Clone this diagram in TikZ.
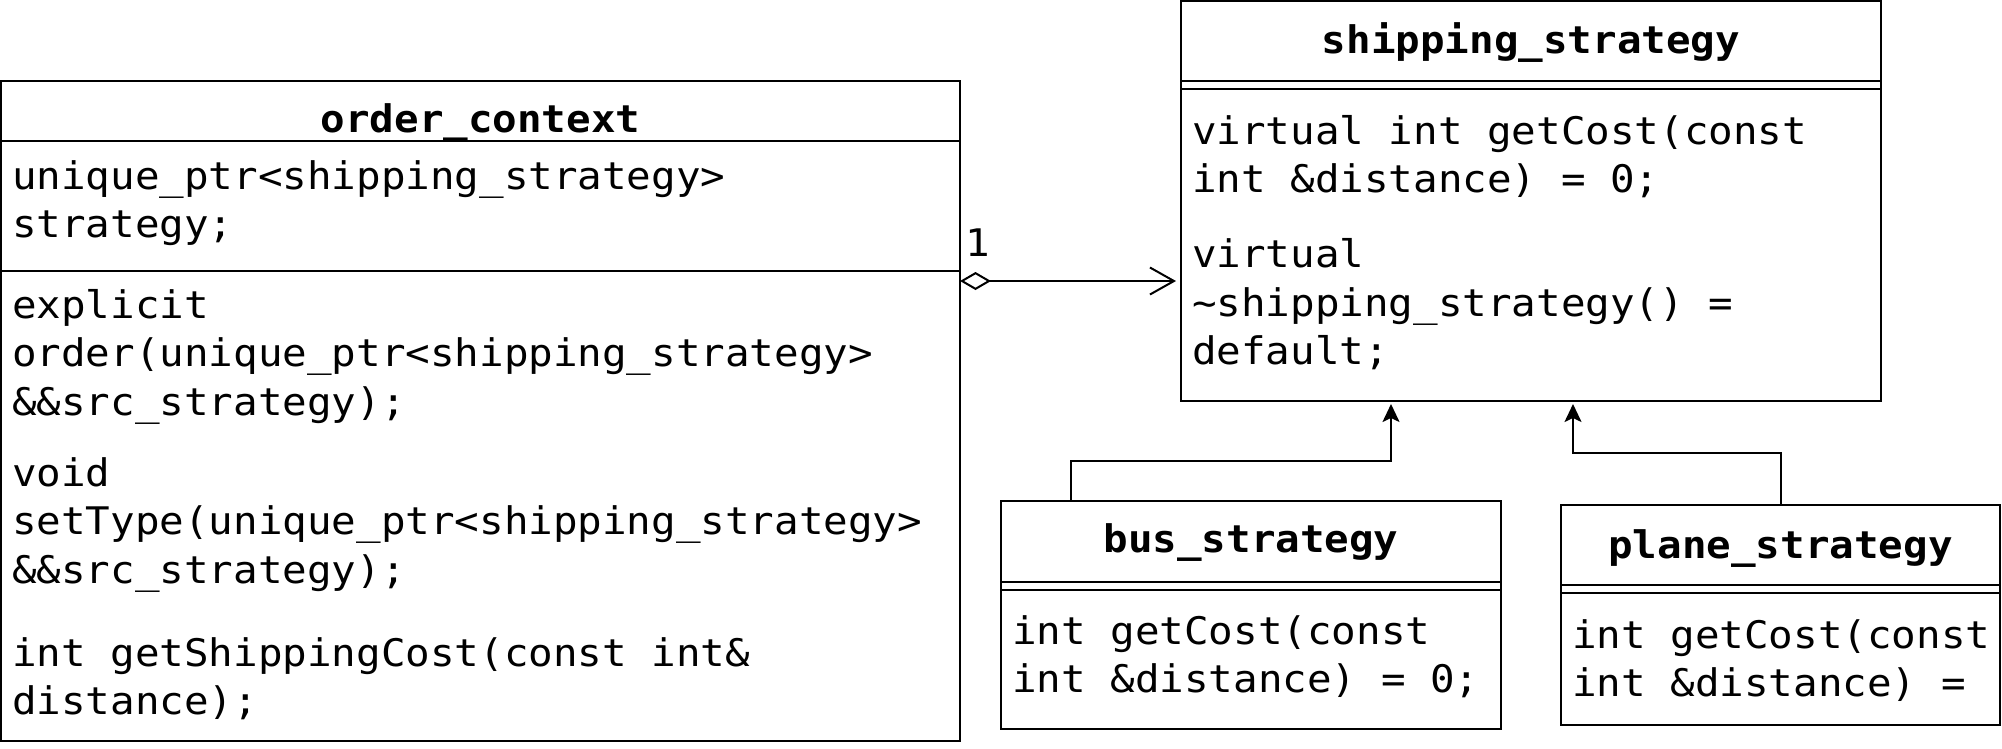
\documentclass[tikz,border=0pt]{standalone}
\usepackage{fontspec}
\setmonofont{DejaVu Sans Mono}[FakeStretch=1.075]
\usetikzlibrary{arrows.meta}
\tikzset{
  box/.style={draw, line width=2pt, outer sep=0pt, inner sep=0pt, anchor=north west},
  sepline/.style={line width=2pt},
  txt/.style={font=\ttfamily\fontsize{38}{48.5}\selectfont, inner sep=0pt, anchor=base west},
  ttl/.style={font=\ttfamily\bfseries\fontsize{38}{48.5}\selectfont, inner sep=0pt, anchor=base},
  agg/.style={line width=2pt, {Diamond[open,length=31pt,width=18pt]}-{Straight Barb[length=24pt,width=27pt]}, shorten >=5pt},
  inh/.style={line width=2pt, -{Stealth[length=18pt,width=17pt,inset=4pt]}, shorten >=3pt},
}
\begin{document}
\begin{tikzpicture}[x=1pt,y=-1pt]
\useasboundingbox (0,0) rectangle (2002,748);
% ---------- order_context ----------
\node[box, minimum width=959pt, minimum height=660pt] (order) at (1,81) {};
\draw[sepline] (1,140.7) -- (960,140.7);
\draw[sepline] (1,270.7) -- (960,270.7);
\node[ttl] (ot) at (480.5,132) {order\_context};
\node[txt] (o1) at (12,189) {unique\_ptr<shipping\_strategy>};
\node[txt] (o2) at (12,237.5) {strategy;};
\node[txt] (o3) at (12,318) {explicit};
\node[txt] (o4) at (12,366.5) {order(unique\_ptr<shipping\_strategy>};
\node[txt] (o5) at (12,415) {\&\&src\_strategy);};
\node[txt] (o6) at (12,486) {void};
\node[txt] (o7) at (12,534.5) {setType(unique\_ptr<shipping\_strategy>};
\node[txt] (o8) at (12,583) {\&\&src\_strategy);};
\node[txt] (o9) at (12,666) {int getShippingCost(const int\&};
\node[txt] (o10) at (12,714.5) {distance);};
% ---------- shipping_strategy ----------
\node[box, minimum width=700pt, minimum height=400pt] (ship) at (1181,1) {};
\draw[sepline] (1181,81) -- (1881,81);
\draw[sepline] (1181,89) -- (1881,89);
\node[ttl] (st) at (1531,53) {shipping\_strategy};
\node[txt] (s1) at (1192,144) {virtual int getCost(const};
\node[txt] (s2) at (1192,192.5) {int \&distance) = 0;};
\node[txt] (s3) at (1192,267.5) {virtual};
\node[txt] (s4) at (1192,316) {\textasciitilde shipping\_strategy() =};
\node[txt] (s5) at (1192,364.5) {default;};
% ---------- bus_strategy ----------
\node[box, minimum width=500pt, minimum height=228pt] (bus) at (1001,501) {};
\draw[sepline] (1001,581.5) -- (1501,581.5);
\draw[sepline] (1001,589.5) -- (1501,589.5);
\node[ttl] (bt) at (1251,552.5) {bus\_strategy};
\node[txt] (b1t) at (1012,644) {int getCost(const};
\node[txt] (b2t) at (1012,692.5) {int \&distance) = 0;};
% ---------- plane_strategy ----------
\node[box, minimum width=439pt, minimum height=220pt] (plane) at (1561,505) {};
\draw[sepline] (1561,585) -- (2000,585);
\draw[sepline] (1561,593) -- (2000,593);
\node[ttl] (pt) at (1780.5,558) {plane\_strategy};
\node[txt] (p1t) at (1572,648) {int getCost(const};
\node[txt] (p2t) at (1572,696) {int \&distance) =};
% ---------- connectors ----------
\coordinate (aggy) at (0,281);
\draw[agg] (order.east |- aggy) -- (ship.west |- aggy);
\node[txt] (one) at (965,256) {1};
\coordinate (bA) at (1071,461);
\coordinate (bB) at (1391,461);
\draw[inh] (bus.north -| bA) -- (bA) -- (bB) -- (ship.south -| bB);
\coordinate (pA) at (1781,453);
\coordinate (pB) at (1573,453);
\draw[inh] (plane.north -| pA) -- (pA) -- (pB) -- (ship.south -| pB);
\end{tikzpicture}
\end{document}
